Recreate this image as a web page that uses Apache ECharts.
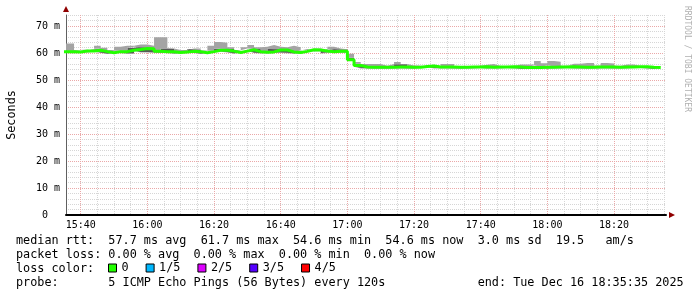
<!DOCTYPE html>
<html><head><meta charset="utf-8">
<script src="https://cdn.jsdelivr.net/npm/echarts@6/dist/echarts.min.js"></script>
<style>html,body{margin:0;padding:0;background:#fff}#c{width:697px;height:297px}</style>
</head><body><div id="c"></div>
<script>
// ---- data (one value per 120 s step, first step starts 15:34) ----
const stepStart = '15:34';
const stepMinutes = 2;
const viewStart = '15:35:35';
const viewEnd = '18:35:35';
const xTickLabels = ['15:40','16:00','16:20','16:40','17:00','17:20','17:40','18:00','18:20'];
const yTickValues = [0,10,20,30,40,50,60,70];
const yMax = 74.07;

const median = [60.5,
 60.5,60.4,60.7,60.7,61.0,60.5,60.1,60.5,60.5,61.0,
 61.3,61.7,61.6,60.6,60.5,60.5,60.2,60.4,60.6,60.5,
 60.1,60.5,61.0,61.0,60.7,60.2,60.7,61.2,60.5,60.3,
 60.4,61.1,61.1,60.4,60.2,60.6,61.2,61.1,60.7,60.5,
 60.6,60.6,57.5,55.4,54.8,54.7,54.7,54.7,54.7,54.8,
 54.8,54.7,54.7,55.0,55.2,54.8,54.8,54.8,54.7,54.7,
 54.8,54.8,54.9,54.7,54.8,54.8,54.9,54.8,54.6,54.6,
 54.6,54.7,54.7,54.8,54.8,54.9,54.8,54.7,54.7,54.8,
 54.8,54.8,54.7,54.8,54.8,54.9,54.9,54.7,54.6];
const pingMax = [63.5,
 63.5,61.1,61.4,61.5,62.7,61.9,61.1,62.3,62.7,62.7,
 63.1,63.1,62.7,65.8,65.8,61.7,61.1,61.1,61.7,61.7,
 60.9,62.7,64.1,63.8,62.1,61.1,62.1,63.0,62.1,62.3,
 63.0,62.3,62.1,62.7,62.1,61.1,61.6,61.7,61.1,62.3,
 61.7,61.4,59.7,56.7,55.9,55.9,55.9,55.3,55.9,56.7,
 55.9,55.4,55.4,55.4,55.6,55.1,55.9,55.9,55.1,55.1,
 55.1,55.3,55.6,55.9,55.2,55.2,55.2,55.7,55.7,55.7,
 57.0,56.2,57.0,56.8,55.3,56.0,56.0,56.3,56.3,55.4,
 56.3,56.1,55.3,55.7,55.7,55.2,55.2,55.0,55.0];
const ping4 = [60.8,
 60.8,60.7,61.0,61.3,61.6,60.8,60.4,60.8,60.8,61.9,
 62.3,62.0,61.9,60.9,61.7,61.6,60.5,60.7,61.5,61.2,
 60.4,60.8,61.6,61.6,61.5,60.5,61.0,61.7,61.5,60.6,
 61.6,61.4,61.4,60.7,60.5,60.9,61.5,61.4,61.0,61.5,
 61.4,61.3,58.2,56.0,55.1,55.0,55.0,55.0,55.0,55.8,
 55.8,55.0,55.0,55.3,55.5,55.1,55.1,55.1,55.0,55.0,
 55.1,55.1,55.2,55.0,55.1,55.1,55.2,55.1,54.9,54.9,
 55.4,55.0,55.4,55.1,55.1,55.5,55.4,55.0,55.0,55.1,
 55.1,55.1,55.0,55.1,55.1,55.2,55.2,55.0,54.9];
const ping2 = [60.2,
 60.2,60.1,60.4,60.4,60.7,60.2,59.8,60.2,60.2,59.9,
 61.0,60.4,60.4,60.3,60.2,60.2,59.9,60.1,60.3,60.2,
 59.8,60.2,60.7,60.7,60.4,59.9,60.4,60.9,60.2,60.0,
 60.1,60.2,60.2,60.1,59.9,60.3,60.9,60.8,60.0,60.2,
 60.3,60.3,57.2,55.1,54.5,54.4,54.4,54.4,54.4,54.5,
 54.5,54.4,54.4,54.7,54.9,54.5,54.5,54.5,54.4,54.4,
 54.5,54.5,54.6,54.4,54.5,54.5,54.6,54.5,54.3,54.3,
 54.3,54.4,54.4,54.5,54.5,54.6,54.5,54.4,54.4,54.5,
 54.5,54.5,54.4,54.5,54.5,54.6,54.6,54.4,54.3];
const pingMin = [60.0,
 60.0,59.9,60.2,60.2,60.5,60.0,59.6,60.0,60.0,59.7,
 60.8,60.2,60.2,60.1,60.0,60.0,59.7,59.9,60.1,60.0,
 59.6,60.0,60.5,60.5,60.2,59.7,60.2,60.7,60.0,59.8,
 59.9,60.0,60.0,59.9,59.7,60.1,60.7,60.6,59.8,60.0,
 60.1,60.1,57.0,54.9,54.3,54.2,54.2,54.2,54.2,54.3,
 54.3,54.2,54.2,54.5,54.7,54.3,54.3,54.3,54.2,54.2,
 54.3,54.3,54.4,54.2,54.3,54.3,54.4,54.3,54.1,54.1,
 54.1,54.2,54.2,54.3,54.3,54.4,54.3,54.2,54.2,54.3,
 54.3,54.3,54.2,54.3,54.3,54.4,54.4,54.2,54.1];

const lossNames = ['0','1/5','2/5','3/5','4/5'];
const lossColors = ['#22ff00','#00b8ff','#dd00ff','#5500ff','#ff0000'];

const textLine1 = 'median rtt:  57.7 ms avg  61.7 ms max  54.6 ms min  54.6 ms now  3.0 ms sd  19.5   am/s';
const textLine2 = 'packet loss: 0.00 % avg  0.00 % max  0.00 % min  0.00 % now';
const textLine3 = 'loss color:';
const textLine4 = 'probe:       5 ICMP Echo Pings (56 Bytes) every 120s             end: Tue Dec 16 18:35:35 2025';
const watermark = 'RRDTOOL / TOBI OETIKER';

// ---- helpers ----
function T(s){const p=s.split(':').map(Number);return p[0]*60+p[1]+(p[2]||0)/60;} // minutes of day
function pad(n){return (n<10?'0':'')+n;}
const MONO = '"DejaVu Sans Mono", monospace';
const t0 = T(stepStart);
const times = median.map((_,i)=>t0+i*stepMinutes);
const tEnd = t0 + median.length*stepMinutes;
// [value, time] pairs (value first so the stack is applied to the value dimension)
function series(arr){const d=arr.map((v,i)=>[v,times[i]]);d.push([arr[arr.length-1],tEnd]);return d;}
function diff(a,b){return a.map((v,i)=>+(v-b[i]).toFixed(3));}

const xMajor = xTickLabels.map(T);
const xMinor = [];
for(let t=T('15:40');t<=T(viewEnd);t+=5){ if(xMajor.indexOf(t)<0) xMinor.push(t); }
const yMinor = [];
for(let v=2;v<yMax;v+=2){ if(v%10!==0) yMinor.push(v); }

const smokeBase = {type:'line',stack:'smoke',step:'end',symbol:'none',silent:true,
  encode:{x:1,y:0},xAxisIndex:0,yAxisIndex:0,lineStyle:{width:0,opacity:0}};

const chart = echarts.init(document.getElementById('c'),null,{renderer:'canvas'});
chart.setOption({
  animation:false,
  backgroundColor:'#ffffff',
  grid:{left:66,top:15,width:600,height:200,containLabel:false,outerBoundsMode:'none'},
  xAxis:[
    {type:'value',position:'bottom',min:T(viewStart),max:T(viewEnd),
     axisLine:{show:true,onZero:false,lineStyle:{color:'#000',width:2}},
     axisTick:{show:false,customValues:xMajor},
     axisLabel:{customValues:xMajor,formatter:v=>pad(Math.floor(v/60))+':'+pad(Math.round(v%60)),
       fontFamily:MONO,fontSize:10,color:'#000',margin:5},
     splitLine:{show:true,lineStyle:{color:'#eaa8a8',width:1,type:[1,1]}}},
    {type:'value',position:'bottom',min:T(viewStart),max:T(viewEnd),
     axisLine:{show:true,onZero:false,symbol:['none','triangle'],symbolSize:[6,6],symbolOffset:[0,6],
       lineStyle:{color:'#900000',width:0}},
     axisTick:{show:false,customValues:xMinor},axisLabel:{show:false},
     splitLine:{show:true,lineStyle:{color:'#d6d6d6',width:1,type:[1,1]}}}
  ],
  yAxis:[
    {type:'value',position:'left',min:0,max:yMax,
     name:'Seconds',nameLocation:'middle',nameGap:48,
     nameTextStyle:{fontFamily:MONO,fontSize:11.8,color:'#000'},
     axisLine:{show:true,onZero:false,lineStyle:{color:'#606060',width:1}},
     axisTick:{show:false,customValues:yTickValues},
     axisLabel:{customValues:yTickValues,formatter:v=>v===0?'0  ':v+' m',fontFamily:MONO,fontSize:10,color:'#000',margin:6},
     splitLine:{show:true,lineStyle:{color:'#eaa8a8',width:1,type:[1,1]}}},
    {type:'value',position:'left',min:0,max:yMax,
     axisLine:{show:true,onZero:false,symbol:['none','triangle'],symbolSize:[6,6],symbolOffset:[0,6],
       lineStyle:{color:'#900000',width:0}},
     axisTick:{show:false,customValues:yMinor},axisLabel:{show:false},
     splitLine:{show:true,lineStyle:{color:'#d6d6d6',width:1,type:[1,1]}}}
  ],
  legend:{data:lossNames,left:108,top:262,padding:0,itemGap:17,itemWidth:8,itemHeight:8,
    icon:'rect',selectedMode:false,itemStyle:{borderColor:'#000',borderWidth:1},
    textStyle:{fontFamily:MONO,fontSize:11.8,color:'#000'}},
  series:[
    Object.assign({},smokeBase,{name:'smokeBase',data:series(pingMin)}),
    Object.assign({},smokeBase,{name:'smokeLow',data:series(diff(ping2,pingMin)),areaStyle:{color:'#a4a4a4',opacity:1}}),
    Object.assign({},smokeBase,{name:'smokeMid',data:series(diff(ping4,ping2)),areaStyle:{color:'#585858',opacity:1}}),
    Object.assign({},smokeBase,{name:'smokeHigh',data:series(diff(pingMax,ping4)),areaStyle:{color:'#a4a4a4',opacity:1}}),
    {name:'median rtt',type:'line',step:'end',symbol:'none',silent:true,encode:{x:1,y:0},data:series(median),
     lineStyle:{color:lossColors[0],width:3,cap:'butt'},z:5},
  ].concat(lossNames.map((n,i)=>({name:n,type:'line',data:[],color:lossColors[i],symbol:'none'}))),
  graphic:[
    {type:'text',x:16,y:241,silent:true,style:{text:textLine1,fontFamily:MONO,fontSize:11.8,fill:'#000',verticalAlign:'middle'}},
    {type:'text',x:16,y:255,silent:true,style:{text:textLine2,fontFamily:MONO,fontSize:11.8,fill:'#000',verticalAlign:'middle'}},
    {type:'text',x:16,y:269,silent:true,style:{text:textLine3,fontFamily:MONO,fontSize:11.8,fill:'#000',verticalAlign:'middle'}},
    {type:'text',x:16,y:283,silent:true,style:{text:textLine4,fontFamily:MONO,fontSize:11.8,fill:'#000',verticalAlign:'middle'}},
    {type:'text',x:687,y:59,rotation:-Math.PI/2,silent:true,style:{text:watermark,fontFamily:MONO,fontSize:8,fill:'#b0b0b0',align:'center',verticalAlign:'middle'}}
  ]
});
</script></body></html>
